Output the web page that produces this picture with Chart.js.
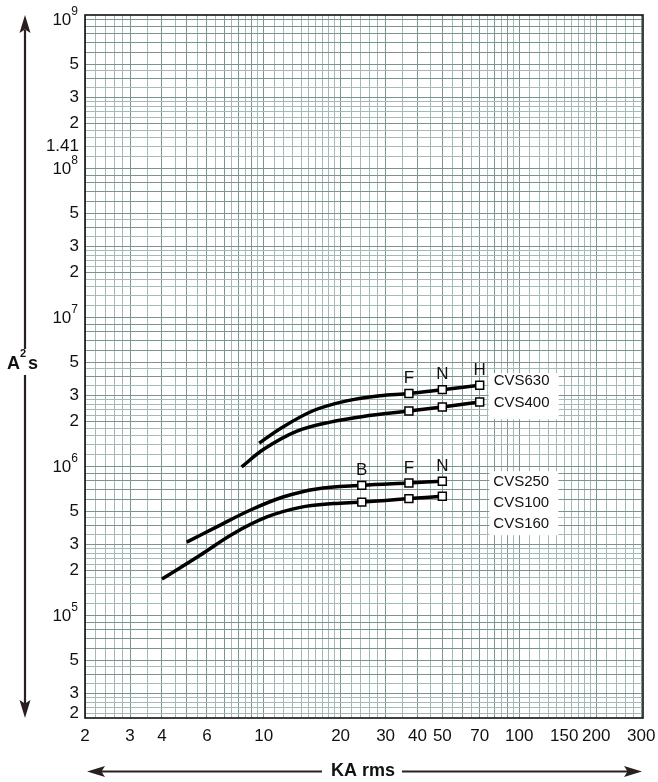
<!DOCTYPE html>
<html>
<head>
<meta charset="utf-8">
<script src="https://cdn.jsdelivr.net/npm/chart.js@4.4.1/dist/chart.umd.min.js"></script>
<style>
  html, body { margin: 0; padding: 0; background: #fff; }
  #wrap { width: 658px; height: 782px; }
</style>
</head>
<body>
<div id="wrap"><canvas id="chart" width="658" height="782"></canvas></div>
<script>
// Let-through energy curves (kA rms -> A²s)
const cvs630X = [9.6, 11.6, 15.6, 21.1, 28.5, 37, 50, 70];
const cvs630Y = [1.43e6, 1.79e6, 2.36e6, 2.75e6, 2.98e6, 3.08e6, 3.27e6, 3.5e6];
const cvs630Mark = [0, 0, 0, 0, 0, 1, 1, 1];

const cvs400X = [8.2, 10.0, 13.5, 18.2, 24.5, 37, 50, 70];
const cvs400Y = [9.9e5, 1.3e6, 1.72e6, 1.98e6, 2.16e6, 2.35e6, 2.5e6, 2.7e6];
const cvs400Mark = [0, 0, 0, 0, 0, 1, 1, 1];

const cvs250X = [5.0, 6.55, 8.84, 11.9, 16.1, 24.2, 37, 50];
const cvs250Y = [3.1e5, 3.92e5, 5.07e5, 6.22e5, 7.05e5, 7.45e5, 7.73e5, 7.94e5];
const cvs250Mark = [0, 0, 0, 0, 0, 1, 1, 1];

const cvs100X = [4.0, 5.64, 7.6, 10.3, 13.9, 18.7, 24.2, 37, 50];
const cvs100Y = [1.75e5, 2.53e5, 3.53e5, 4.57e5, 5.3e5, 5.62e5, 5.75e5, 6.07e5, 6.29e5];
const cvs100Mark = [0, 0, 0, 0, 0, 0, 1, 1, 1];

const letters630 = ['F', 'N', 'H'];
const letters250 = ['B', 'F', 'N'];

// axis ticks
const xTickValues = [2, 3, 4, 6, 10, 20, 30, 40, 50, 70, 100, 150, 200, 300];
const yTickValues = [1e9, 5e8, 3e8, 2e8, 1.41e8, 1e8, 5e7, 3e7, 2e7, 1e7, 5e6, 3e6, 2e6, 1e6, 5e5, 3e5, 2e5, 1e5, 5e4, 3e4, 2e4];
const yTickLabels = ['10^9', '5', '3', '2', '1.41', '10^8', '5', '3', '2', '10^7', '5', '3', '2', '10^6', '5', '3', '2', '10^5', '5', '3', '2'];

// grid subdivisions inside each decade
const xGridSteps = [1, 1.1, 1.2, 1.3, 1.4, 1.5, 1.6, 1.7, 1.8, 1.9, 2, 2.2, 2.4, 2.6, 2.8, 3, 3.5, 4, 4.5, 5, 5.5, 6, 6.5, 7, 7.5, 8, 8.5, 9, 9.5];
const yGridSteps = [1, 1.2, 1.41, 1.6, 1.8, 2, 2.2, 2.4, 2.6, 2.8, 3, 3.5, 4, 4.5, 5, 6, 7, 8, 9];

const xMin = 2, xMax = 304.8;
const yMin = 2.045e4, yMax = 1.069e9;

const FONT = '"Liberation Sans", Arial, sans-serif';

function gridValues(steps, min, max) {
    const out = [];
    for (let e = Math.floor(Math.log10(min)); e <= Math.ceil(Math.log10(max)); e++) {
        steps.forEach(s => {
            const v = s * Math.pow(10, e);
            if (v >= min * 0.999 && v <= max * 1.001) out.push(v);
        });
    }
    return out;
}

function gridColor(v) {
    const m = v / Math.pow(10, Math.floor(Math.log10(v) + 1e-9));
    return Math.abs(m - Math.round(m)) < 0.01 ? '#7b9490' : '#a5b9b6';
}

function toPoints(xs, ys) {
    return xs.map((x, i) => ({ x: x, y: ys[i] }));
}

function curve(xs, ys, marks) {
    return {
        data: toPoints(xs, ys),
        borderColor: '#000',
        borderWidth: 3.5,
        tension: 0.35,
        pointStyle: 'rect',
        pointRadius: marks.map(m => m ? 5.6 : 0),
        pointHoverRadius: 0,
        pointBackgroundColor: '#fff',
        pointBorderColor: '#000',
        pointBorderWidth: 1.5,
        fill: false
    };
}

function drawPow(ctx, base, exp, right, y, size) {
    ctx.font = Math.round(size * 0.68) + 'px ' + FONT;
    ctx.textAlign = 'right';
    ctx.fillText(exp, right, y - size * 0.5);
    const ew = ctx.measureText(exp).width;
    ctx.font = size + 'px ' + FONT;
    ctx.fillText(base, right - ew, y);
}

function arrowHead(ctx, x, y, dx, dy) {
    // tip at (x,y), pointing along (dx,dy)
    const len = 18, half = 5.5;
    const px = -dy, py = dx;
    ctx.beginPath();
    ctx.moveTo(x, y);
    ctx.lineTo(x - dx * len + px * half, y - dy * len + py * half);
    ctx.lineTo(x - dx * len * 0.8, y - dy * len * 0.8);
    ctx.lineTo(x - dx * len - px * half, y - dy * len - py * half);
    ctx.closePath();
    ctx.fill();
}

const decorations = {
    id: 'decorations',
    afterDraw(chart) {
        const ctx = chart.ctx;
        const xs = chart.scales.x, ys = chart.scales.y;
        const area = chart.chartArea;
        ctx.save();

        // frame
        ctx.strokeStyle = '#111';
        ctx.lineWidth = 1.6;
        ctx.strokeRect(area.left, area.top, area.right - area.left, area.bottom - area.top);

        ctx.fillStyle = '#111';
        ctx.textBaseline = 'middle';

        // y tick labels
        yTickValues.forEach((v, i) => {
            const y = Math.min(ys.getPixelForValue(v), area.bottom - 5);
            const lab = yTickLabels[i];
            if (lab.indexOf('^') > 0) {
                const parts = lab.split('^');
                drawPow(ctx, parts[0], parts[1], area.left - 7, y + 1, 17);
            } else {
                ctx.font = '17px ' + FONT;
                ctx.textAlign = 'right';
                ctx.fillText(lab, area.left - 6, y);
            }
        });

        // x tick labels
        ctx.font = '17px ' + FONT;
        ctx.textAlign = 'center';
        xTickValues.forEach(v => {
            ctx.fillText(String(v), xs.getPixelForValue(v), area.bottom + 18);
        });

        // letters over markers
        ctx.font = '17px ' + FONT;
        const last630 = cvs630X.length - 3;
        letters630.forEach((l, i) => {
            const x = xs.getPixelForValue(cvs630X[last630 + i]);
            const y = ys.getPixelForValue(cvs630Y[last630 + i]);
            ctx.fillText(l, x, y - 15);
        });
        const last250 = cvs250X.length - 3;
        letters250.forEach((l, i) => {
            const x = xs.getPixelForValue(cvs250X[last250 + i]);
            const y = ys.getPixelForValue(cvs250Y[last250 + i]);
            ctx.fillText(l, x, y - 15);
        });

        // curve names
        ctx.font = '15px ' + FONT;
        ctx.textAlign = 'left';
        const hx = xs.getPixelForValue(cvs630X[cvs630X.length - 1]);
        const h630 = ys.getPixelForValue(cvs630Y[cvs630Y.length - 1]);
        const h400 = ys.getPixelForValue(cvs400Y[cvs400Y.length - 1]);
        ctx.fillStyle = '#fff';
        ctx.fillRect(hx + 9, h630 - 12, 70, 46);
        ctx.fillStyle = '#111';
        ctx.fillText('CVS630', hx + 14, h630 - 4);
        ctx.fillText('CVS400', hx + 14, h400 + 1);

        const nx = xs.getPixelForValue(cvs250X[cvs250X.length - 1]);
        const n250 = ys.getPixelForValue(cvs250Y[cvs250Y.length - 1]);
        ctx.fillStyle = '#fff';
        ctx.fillRect(nx + 47, n250 - 10, 69, 64);
        ctx.fillStyle = '#111';
        ctx.fillText('CVS250', nx + 51, n250 + 1);
        ctx.fillText('CVS100', nx + 51, n250 + 22);
        ctx.fillText('CVS160', nx + 51, n250 + 43);

        // vertical arrow with A²s
        ctx.strokeStyle = '#2a1f1f';
        ctx.fillStyle = '#2a1f1f';
        ctx.lineWidth = 2.2;
        ctx.beginPath();
        ctx.moveTo(25, 30); ctx.lineTo(25, 349);
        ctx.moveTo(25, 375); ctx.lineTo(25, 704);
        ctx.stroke();
        arrowHead(ctx, 25, 15, 0, -1);
        arrowHead(ctx, 25, 718, 0, 1);

        ctx.fillStyle = '#111';
        ctx.font = 'bold 18px ' + FONT;
        ctx.textAlign = 'left';
        ctx.fillText('A', 7, 364);
        ctx.font = 'bold 11px ' + FONT;
        ctx.fillText('2', 20, 354);
        ctx.font = 'bold 18px ' + FONT;
        ctx.fillText('s', 28, 364);

        // horizontal arrow with KA rms
        ctx.strokeStyle = '#2a1f1f';
        ctx.fillStyle = '#2a1f1f';
        ctx.beginPath();
        ctx.moveTo(100, 771.5); ctx.lineTo(322, 771.5);
        ctx.moveTo(402, 771.5); ctx.lineTo(628, 771.5);
        ctx.stroke();
        arrowHead(ctx, 87, 771.5, -1, 0);
        arrowHead(ctx, 642, 771.5, 1, 0);

        ctx.fillStyle = '#111';
        ctx.font = 'bold 18px ' + FONT;
        ctx.textAlign = 'center';
        ctx.fillText('KA rms', 363, 771);

        ctx.restore();
    }
};

new Chart(document.getElementById('chart').getContext('2d'), {
    type: 'line',
    data: {
        datasets: [
            curve(cvs630X, cvs630Y, cvs630Mark),
            curve(cvs400X, cvs400Y, cvs400Mark),
            curve(cvs250X, cvs250Y, cvs250Mark),
            curve(cvs100X, cvs100Y, cvs100Mark)
        ]
    },
    options: {
        responsive: false,
        animation: false,
        events: [],
        layout: { padding: { left: 85, top: 15, right: 15, bottom: 64 } },
        plugins: { legend: { display: false }, tooltip: { enabled: false } },
        scales: {
            x: {
                type: 'logarithmic',
                min: xMin,
                max: xMax,
                afterBuildTicks: s => { s.ticks = gridValues(xGridSteps, xMin, xMax).map(v => ({ value: v })); },
                ticks: { display: false },
                grid: { drawTicks: false, lineWidth: 1, color: c => gridColor(c.tick.value) },
                border: { display: false }
            },
            y: {
                type: 'logarithmic',
                min: yMin,
                max: yMax,
                afterBuildTicks: s => { s.ticks = gridValues(yGridSteps, yMin, yMax).map(v => ({ value: v })); },
                ticks: { display: false },
                grid: { drawTicks: false, lineWidth: 1, color: c => gridColor(c.tick.value) },
                border: { display: false }
            }
        }
    },
    plugins: [decorations]
});
</script>
</body>
</html>
